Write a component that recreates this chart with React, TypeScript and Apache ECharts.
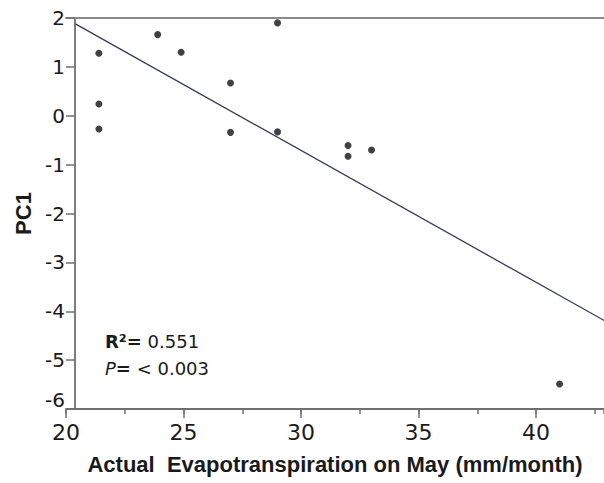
import React, { useEffect, useRef } from "react";
import * as echarts from "echarts";

const etValues = [21.4, 21.4, 21.4, 23.9, 24.9, 29.0, 27.0, 27.0, 29.0, 32.0, 32.0, 33.0, 41.0];
const pc1Values = [1.28, 0.24, -0.27, 1.66, 1.30, 1.90, 0.67, -0.34, -0.33, -0.61, -0.83, -0.70, -5.49];
const fitX = [20.4, 42.9];
const fitY = [1.88, -4.19];
const xTitle = "Actual  Evapotranspiration on May (mm/month)";
const yTitle = "PC1";
const r2Text = "0.551";
const pText = "< 0.003";

const TITLE_FONT = "'Liberation Sans', Arial, sans-serif";
const NUM_FONT = "'DejaVu Sans', 'Liberation Sans', sans-serif";

export default function App() {
  const ref = useRef<HTMLDivElement>(null);
  useEffect(() => {
    if (!ref.current) return;
    const chart = echarts.init(ref.current, undefined, { renderer: "svg" });
    const points = etValues.map((x, i) => [x, pc1Values[i]]);
    const fit = fitX.map((x, i) => [x, fitY[i]]);
    const axisColor = "#707070";
    const xMin = 20;
    const xMax = 42.89;
    chart.setOption({
      animation: false,
      backgroundColor: "#ffffff",
      textStyle: { fontFamily: NUM_FONT },
      grid: { left: 66, right: 0, top: 18, bottom: 74, containLabel: false },
      xAxis: [
        {
          type: "value",
          min: xMin,
          max: xMax,
          interval: 5,
          position: "bottom",
          axisLine: { show: true, onZero: false, lineStyle: { color: axisColor, width: 1.8 } },
          axisTick: { show: true, length: 9, lineStyle: { color: axisColor, width: 1.5 } },
          splitLine: { show: false },
          axisLabel: {
            show: true,
            margin: 12,
            fontSize: 22,
            color: "#1a1a1a",
            fontFamily: NUM_FONT,
            showMaxLabel: false,
          },
          name: xTitle,
          nameLocation: "middle",
          nameGap: 44,
          nameTextStyle: { fontSize: 22, fontWeight: "bold", color: "#1a1a1a", fontFamily: TITLE_FONT },
        },
        {
          type: "value",
          min: xMin,
          max: xMax,
          position: "top",
          axisLine: { show: true, onZero: false, lineStyle: { color: "#8a8a8a", width: 2 } },
          axisTick: { show: false },
          axisLabel: { show: false },
          splitLine: { show: false },
        },
        {
          type: "value",
          min: xMin,
          max: xMax,
          interval: 2.5,
          position: "bottom",
          axisLine: { show: false, onZero: false },
          axisTick: { show: true, length: 5, lineStyle: { color: axisColor, width: 1.5 } },
          axisLabel: { show: false },
          splitLine: { show: false },
        },
      ],
      yAxis: {
        type: "value",
        min: -6,
        max: 2,
        interval: 1,
        offset: -9,
        axisLine: { show: true, onZero: false, lineStyle: { color: axisColor, width: 1.8 } },
        axisTick: { show: true, length: 9, lineStyle: { color: axisColor, width: 1.5 } },
        splitLine: { show: false },
        axisLabel: {
          margin: 10,
          fontSize: 20,
          color: "#1a1a1a",
          fontFamily: NUM_FONT,
          formatter: (v: number) => (v === -6 ? "{m|-6}" : String(v)),
          rich: { m: { fontSize: 20, fontFamily: NUM_FONT, color: "#1a1a1a", padding: [0, 0, 18, 0] } },
        },
        name: yTitle,
        nameLocation: "middle",
        nameGap: 41,
        nameRotate: 90,
        nameTextStyle: { fontSize: 22, fontWeight: "bold", color: "#1a1a1a", fontFamily: TITLE_FONT },
      },
      series: [
        {
          type: "line",
          xAxisIndex: 0,
          data: fit,
          symbol: "none",
          lineStyle: { color: "#3a3a58", width: 1.3 },
          silent: true,
          z: 2,
        },
        {
          type: "scatter",
          xAxisIndex: 0,
          data: points,
          symbol: "circle",
          symbolSize: 7,
          itemStyle: { color: "#111111" },
          z: 3,
        },
      ],
      graphic: [
        {
          type: "text",
          left: 105,
          top: 332,
          style: {
            text: "{b|R²=} {n|" + r2Text + "}",
            rich: {
              b: { fontSize: 18, fontWeight: "bold", fontFamily: NUM_FONT, fill: "#1a1a1a" },
              n: { fontSize: 18, fontFamily: NUM_FONT, fill: "#1a1a1a" },
            },
            fontSize: 18,
            fontFamily: NUM_FONT,
            fill: "#1a1a1a",
          },
        },
        {
          type: "text",
          left: 105,
          top: 359,
          style: {
            text: "{i|P}{b|=} {n|" + pText + "}",
            rich: {
              i: { fontSize: 18, fontStyle: "italic", fontFamily: NUM_FONT, fill: "#1a1a1a" },
              b: { fontSize: 18, fontWeight: "bold", fontFamily: NUM_FONT, fill: "#1a1a1a" },
              n: { fontSize: 18, fontFamily: NUM_FONT, fill: "#1a1a1a" },
            },
            fontSize: 18,
            fontFamily: NUM_FONT,
            fill: "#1a1a1a",
          },
        },
      ],
    });
    return () => chart.dispose();
  }, []);
  return (
    <div
      ref={ref}
      style={{ position: "fixed", left: 0, top: 0, width: 604, height: 483, background: "#fff" }}
    />
  );
}
